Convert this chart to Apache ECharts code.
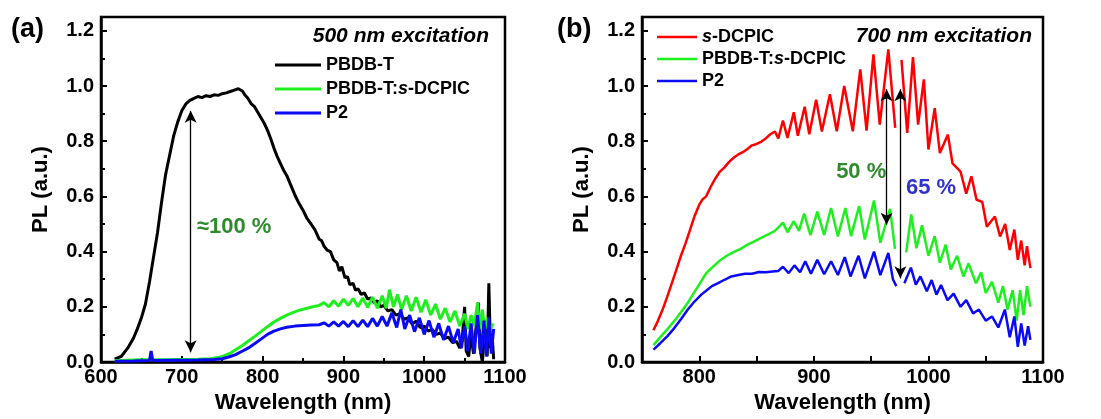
<!DOCTYPE html>
<html>
<head>
<meta charset="utf-8">
<script src="https://cdn.jsdelivr.net/npm/echarts@6/dist/echarts.min.js"></script>
<style>
html,body{margin:0;padding:0;background:#fff;}
#chart{width:1101px;height:419px;}
</style>
</head>
<body>
<div id="chart"></div>
<script>
// ---------- Panel (a): 500 nm excitation ----------
const aBlackX = [617,625,633,640,645,650,655,660,665,670,675,680,685,690,695,700,705,710,715,720,725,730,735,740,745,750,755,760,765,770,775,778,782,786,790,794,798,802,806,810,814,818,822,826,830,835,840,845,850,855,860,865,870,873,876,880,884,888,892,895,898,902,905,908,912,915,918,922,926,930,934,938,942,946,950,955,960,965,970,975,980,985,990,995,1000,1005,1010,1015,1020,1025,1030,1035,1040,1044,1047,1050,1052,1055,1058,1061,1064,1067,1069,1072,1075,1078,1080,1082,1084,1086];
const aBlackY = [0.01,0.02,0.05,0.085,0.12,0.16,0.21,0.29,0.38,0.47,0.58,0.68,0.75,0.82,0.87,0.91,0.935,0.948,0.955,0.962,0.958,0.965,0.962,0.968,0.966,0.972,0.975,0.98,0.985,0.99,0.982,0.968,0.955,0.935,0.925,0.905,0.885,0.865,0.84,0.81,0.775,0.745,0.72,0.695,0.675,0.64,0.605,0.575,0.55,0.52,0.5,0.478,0.445,0.44,0.42,0.405,0.4,0.37,0.36,0.33,0.345,0.305,0.31,0.28,0.285,0.26,0.265,0.245,0.25,0.228,0.232,0.215,0.222,0.2,0.205,0.185,0.19,0.17,0.175,0.155,0.16,0.138,0.148,0.125,0.13,0.112,0.118,0.1,0.105,0.085,0.09,0.07,0.075,0.05,0.08,0.2,0.04,0.02,0.1,0.03,0.12,0.215,0.05,0.0,0.12,0.02,0.285,0.05,0.1,0.01];

const aGreenX = [617,630,650,680,700,720,735,745,752,760,767,775,782,790,798,806,814,822,830,838,846,854,862,870,876,882,888,894,900,906,912,918,924,930,936,942,948,953,957,962,967,972,978,984,990,996,1002,1008,1014,1020,1026,1032,1038,1044,1050,1054,1058,1062,1066,1069,1072,1075,1078,1081,1085];
const aGreenY = [0.005,0.006,0.008,0.008,0.009,0.01,0.012,0.016,0.022,0.032,0.045,0.06,0.075,0.092,0.11,0.128,0.145,0.158,0.17,0.18,0.188,0.194,0.2,0.205,0.215,0.2,0.222,0.202,0.228,0.205,0.23,0.2,0.232,0.198,0.235,0.195,0.24,0.195,0.262,0.2,0.245,0.19,0.24,0.185,0.235,0.18,0.225,0.17,0.21,0.155,0.195,0.145,0.185,0.13,0.175,0.12,0.17,0.13,0.215,0.12,0.19,0.115,0.16,0.11,0.14];

const aBlueX = [617,640,660,662,664,690,720,740,750,758,766,774,782,790,798,806,814,822,830,840,850,860,870,876,882,888,894,900,906,912,918,924,930,936,942,948,954,960,966,971,976,982,988,994,1000,1006,1012,1018,1024,1030,1036,1042,1046,1050,1054,1058,1062,1066,1070,1074,1077,1080,1083,1086];
const aBlueY = [0.003,0.004,0.005,0.04,0.005,0.006,0.007,0.009,0.012,0.018,0.026,0.038,0.05,0.066,0.083,0.1,0.112,0.12,0.126,0.13,0.132,0.134,0.135,0.142,0.13,0.145,0.13,0.147,0.128,0.15,0.128,0.152,0.128,0.158,0.13,0.165,0.13,0.178,0.125,0.19,0.12,0.17,0.11,0.16,0.1,0.15,0.09,0.14,0.08,0.13,0.07,0.12,0.05,0.13,0.04,0.14,0.03,0.17,0.03,0.15,0.02,0.16,0.03,0.12];

// ---------- Panel (b): 700 nm excitation (null = gap in the measured data) ----------
const bRedX = [760,764,768,772,776,780,784,788,792,796,800,803,806,810,814,818,822,826,830,834,838,842,846,850,854,858,862,866,869,873,877,882.5,886,892,896,902,907,914,920,926.5,934,940.5,946,952,957.5,965,971,973,976.5,981.5,986.5,991,996,1000,1005.5,1010,1017,1021,1028,1033,1037.5,1042,1047,1051,1058,1062.5,1067,1071,1075,1078,1081,1084,1086,1089];
const bRedY = [0.115,0.15,0.19,0.236,0.285,0.335,0.385,0.43,0.48,0.53,0.57,0.59,0.6,0.635,0.665,0.69,0.705,0.725,0.74,0.752,0.76,0.772,0.785,0.79,0.798,0.81,0.825,0.835,0.81,0.875,0.812,0.905,0.82,0.925,0.825,0.95,0.835,0.97,0.836,1.0,0.836,1.06,0.838,1.115,0.86,1.133,0.848,null,1.095,0.83,1.105,0.86,1.024,0.77,0.92,0.757,0.824,0.72,0.69,0.61,0.673,0.588,0.58,0.49,0.527,0.455,0.5,0.406,0.48,0.37,0.44,0.35,0.42,0.34];

const bGreenX = [760,766,772,778,784,790,796,802,806,812,818,824,830,836,842,848,854,860,866,869.5,873,877,882.5,887,891.5,897,903,909,915,921,927.5,932.5,939.5,944.5,952.5,958,966.5,970.8,975,980.6,985,989.5,994.4,1000,1005.5,1010,1015,1019.5,1025,1030.5,1035,1041.5,1046,1050,1055.5,1061,1065,1069,1073.5,1077,1080,1083,1086,1089];
const bGreenY = [0.061,0.09,0.118,0.148,0.18,0.215,0.255,0.295,0.322,0.345,0.368,0.385,0.398,0.41,0.425,0.437,0.45,0.462,0.475,0.49,0.505,0.47,0.51,0.475,0.538,0.46,0.545,0.46,0.558,0.455,0.558,0.456,0.565,0.444,0.585,0.432,0.555,0.41,null,0.397,0.535,0.412,0.495,0.385,0.456,0.36,0.425,0.335,0.385,0.31,0.357,0.285,0.325,0.25,0.29,0.215,0.275,0.19,0.26,0.15,0.26,0.17,0.275,0.2];

const bBlueX = [760,766,772,778,784,790,796,802,806,811,816,822,828,834,840,846,852,858,864,869,873,878,883,888,892.5,897.5,903,909,915,921,927,932,939,944.5,952.5,958,965,969,972,975,979,984.7,989,993,998.6,1002.8,1007,1011,1016.7,1022,1028,1033,1039,1044,1050,1055.5,1061,1066.7,1071,1075,1078,1081,1084,1087,1089];
const bBlueY = [0.045,0.068,0.093,0.122,0.155,0.19,0.22,0.245,0.258,0.275,0.285,0.298,0.31,0.315,0.32,0.32,0.326,0.325,0.328,0.33,0.345,0.322,0.35,0.325,0.365,0.32,0.37,0.318,0.365,0.315,0.38,0.31,0.385,0.303,0.4,0.315,0.395,0.3,0.275,null,0.285,0.342,0.28,0.31,0.256,0.297,0.244,0.279,0.224,0.248,0.2,0.224,0.176,0.19,0.15,0.165,0.125,0.19,0.09,0.165,0.055,0.14,0.06,0.13,0.08];

// ---------- annotations (data coordinates) ----------
const aArrows = [{x: 711, from: 0.035, to: 0.91}];
const aNotes = [{x: 718, y: 0.49, text: '≈100 %', color: '#2e8b2e'}];
const bArrows = [{x: 963.5, from: 0.497, to: 0.988}, {x: 975.5, from: 0.303, to: 0.988}];
const bNotes = [{x: 919, y: 0.69, text: '50 %', color: '#2e8b2e'}, {x: 980, y: 0.63, text: '65 %', color: '#3333cc'}];

// ---------- axis ticks ----------
const yTicks = {min: 0, max: 1.25, interval: 0.2};
const aXTicks = {min: 600, max: 1100, interval: 100};
const bXTicks = {min: 750, max: 1100, interval: 50, labelStep: 100};

const FONT = 'Liberation Sans, Arial, Helvetica, sans-serif';
const zip = (xs, ys) => xs.map((x, i) => [x, ys[i]]);

const chart = echarts.init(document.getElementById('chart'), null, {renderer: 'canvas'});

function yAxis(gi) {
  return {
    gridIndex: gi, type: 'value', min: yTicks.min, max: yTicks.max, interval: yTicks.interval,
    name: 'PL (a.u.)', nameLocation: 'middle', nameGap: 49,
    nameTextStyle: {fontFamily: FONT, fontWeight: 'bold', fontSize: 22, color: '#000'},
    axisLine: {show: true, lineStyle: {color: '#000', width: 2.5}},
    axisTick: {show: true, inside: true, length: 6, lineStyle: {color: '#000', width: 2}},
    minorTick: {show: true, splitNumber: 2, length: 4, lineStyle: {color: '#000', width: 2}},
    splitLine: {show: false},
    axisLabel: {
      margin: 7, fontFamily: FONT, fontWeight: 'bold', fontSize: 20, color: '#000',
      formatter: v => (Math.abs(v / 0.2 - Math.round(v / 0.2)) < 1e-6 && v <= 1.2 + 1e-9) ? v.toFixed(1) : ''
    }
  };
}
function xAxis(gi, t, step) {
  return {
    gridIndex: gi, type: 'value', min: t.min, max: t.max, interval: t.interval,
    name: 'Wavelength (nm)', nameLocation: 'middle', nameGap: 30,
    nameTextStyle: {fontFamily: FONT, fontWeight: 'bold', fontSize: 22, color: '#000'},
    axisLine: {show: true, onZero: false, lineStyle: {color: '#000', width: 2.5}},
    axisTick: {show: true, inside: true, length: 6, lineStyle: {color: '#000', width: 2}},
    minorTick: {show: gi === 0, splitNumber: 2, length: 4, lineStyle: {color: '#000', width: 2}},
    splitLine: {show: false},
    axisLabel: {
      margin: 5, fontFamily: FONT, fontWeight: 'bold', fontSize: 20, color: '#000',
      formatter: v => (v % step === 0) ? String(v) : ''
    }
  };
}
function arrowMarks(arrows) {
  return {
    silent: true, symbol: ['arrow', 'arrow'], symbolSize: [9, 12], precision: 3,
    lineStyle: {color: '#000', width: 1.3, type: 'solid'},
    label: {show: false},
    data: arrows.map(a => [{coord: [a.x, a.from]}, {coord: [a.x, a.to]}])
  };
}
function noteMarks(notes) {
  return {
    silent: true, symbol: 'circle', symbolSize: 1, itemStyle: {color: 'rgba(0,0,0,0)'},
    data: notes.map(n => ({
      coord: [n.x, n.y], value: n.text,
      label: {show: true, position: 'right', distance: 0, formatter: n.text, color: n.color,
              fontFamily: FONT, fontWeight: 'bold', fontSize: 22}
    }))
  };
}
function line(name, xs, ys, color, gi, width, extra) {
  return Object.assign({
    name: name, type: 'line', xAxisIndex: gi, yAxisIndex: gi,
    data: zip(xs, ys), symbol: 'none', showSymbol: false, connectNulls: false,
    lineStyle: {color: color, width: width}, itemStyle: {color: color},
    animation: false, z: 2
  }, extra || {});
}
const richStyles = {
  n: {fontFamily: FONT, fontWeight: 'bold', fontSize: 18, color: '#000'},
  i: {fontFamily: FONT, fontWeight: 'bold', fontStyle: 'italic', fontSize: 18, color: '#000'}
};
function legendFmt(name) {
  const base = name.replace(' (b)', '');
  const idx = base.indexOf('s-DCPIC');
  if (idx < 0) return '{n|' + base + '}';
  return (idx > 0 ? '{n|' + base.slice(0, idx) + '}' : '') + '{i|s}{n|-DCPIC}';
}

chart.setOption({
  backgroundColor: '#fff',
  animation: false,
  title: [
    {text: '(a)', left: 6, top: 11, textStyle: {fontFamily: FONT, fontWeight: 'bold', fontSize: 27, color: '#000'}},
    {text: '(b)', left: 552, top: 11, textStyle: {fontFamily: FONT, fontWeight: 'bold', fontSize: 27, color: '#000'}},
    {text: '500 nm excitation', right: 607, top: 21, textStyle: {fontFamily: FONT, fontWeight: 'bold', fontStyle: 'italic', fontSize: 21, color: '#000'}},
    {text: '700 nm excitation', right: 64, top: 21, textStyle: {fontFamily: FONT, fontWeight: 'bold', fontStyle: 'italic', fontSize: 21, color: '#000'}}
  ],
  grid: [
    {left: 101, top: 17, width: 404, height: 345, show: true, borderColor: '#000', borderWidth: 2.5, backgroundColor: 'transparent'},
    {left: 642, top: 17, width: 401, height: 345, show: true, borderColor: '#000', borderWidth: 2.5, backgroundColor: 'transparent'}
  ],
  legend: [
    {data: ['PBDB-T', 'PBDB-T:s-DCPIC', 'P2'], orient: 'vertical', left: 270, top: 51,
     icon: 'rect', itemWidth: 46, itemHeight: 3, itemGap: 6, selectedMode: false, formatter: legendFmt,
     textStyle: {rich: richStyles}},
    {data: ['s-DCPIC', 'PBDB-T:s-DCPIC (b)', 'P2 (b)'], orient: 'vertical', left: 652, top: 23,
     icon: 'rect', itemWidth: 40, itemHeight: 2.5, itemGap: 4, selectedMode: false, formatter: legendFmt,
     textStyle: {rich: richStyles}}
  ],
  xAxis: [xAxis(0, aXTicks, 100), xAxis(1, bXTicks, bXTicks.labelStep)],
  yAxis: [yAxis(0), yAxis(1)],
  series: [
    line('PBDB-T', aBlackX, aBlackY, '#000000', 0, 3, {markLine: arrowMarks(aArrows), markPoint: noteMarks(aNotes)}),
    line('PBDB-T:s-DCPIC', aGreenX, aGreenY, '#1ef01e', 0, 3),
    line('P2', aBlueX, aBlueY, '#0a0af5', 0, 3),
    line('s-DCPIC', bRedX, bRedY, '#ff0000', 1, 2.5, {markLine: arrowMarks(bArrows), markPoint: noteMarks(bNotes)}),
    line('PBDB-T:s-DCPIC (b)', bGreenX, bGreenY, '#1ef01e', 1, 2.5),
    line('P2 (b)', bBlueX, bBlueY, '#0a0af5', 1, 2.5)
  ]
});
</script>
</body>
</html>
